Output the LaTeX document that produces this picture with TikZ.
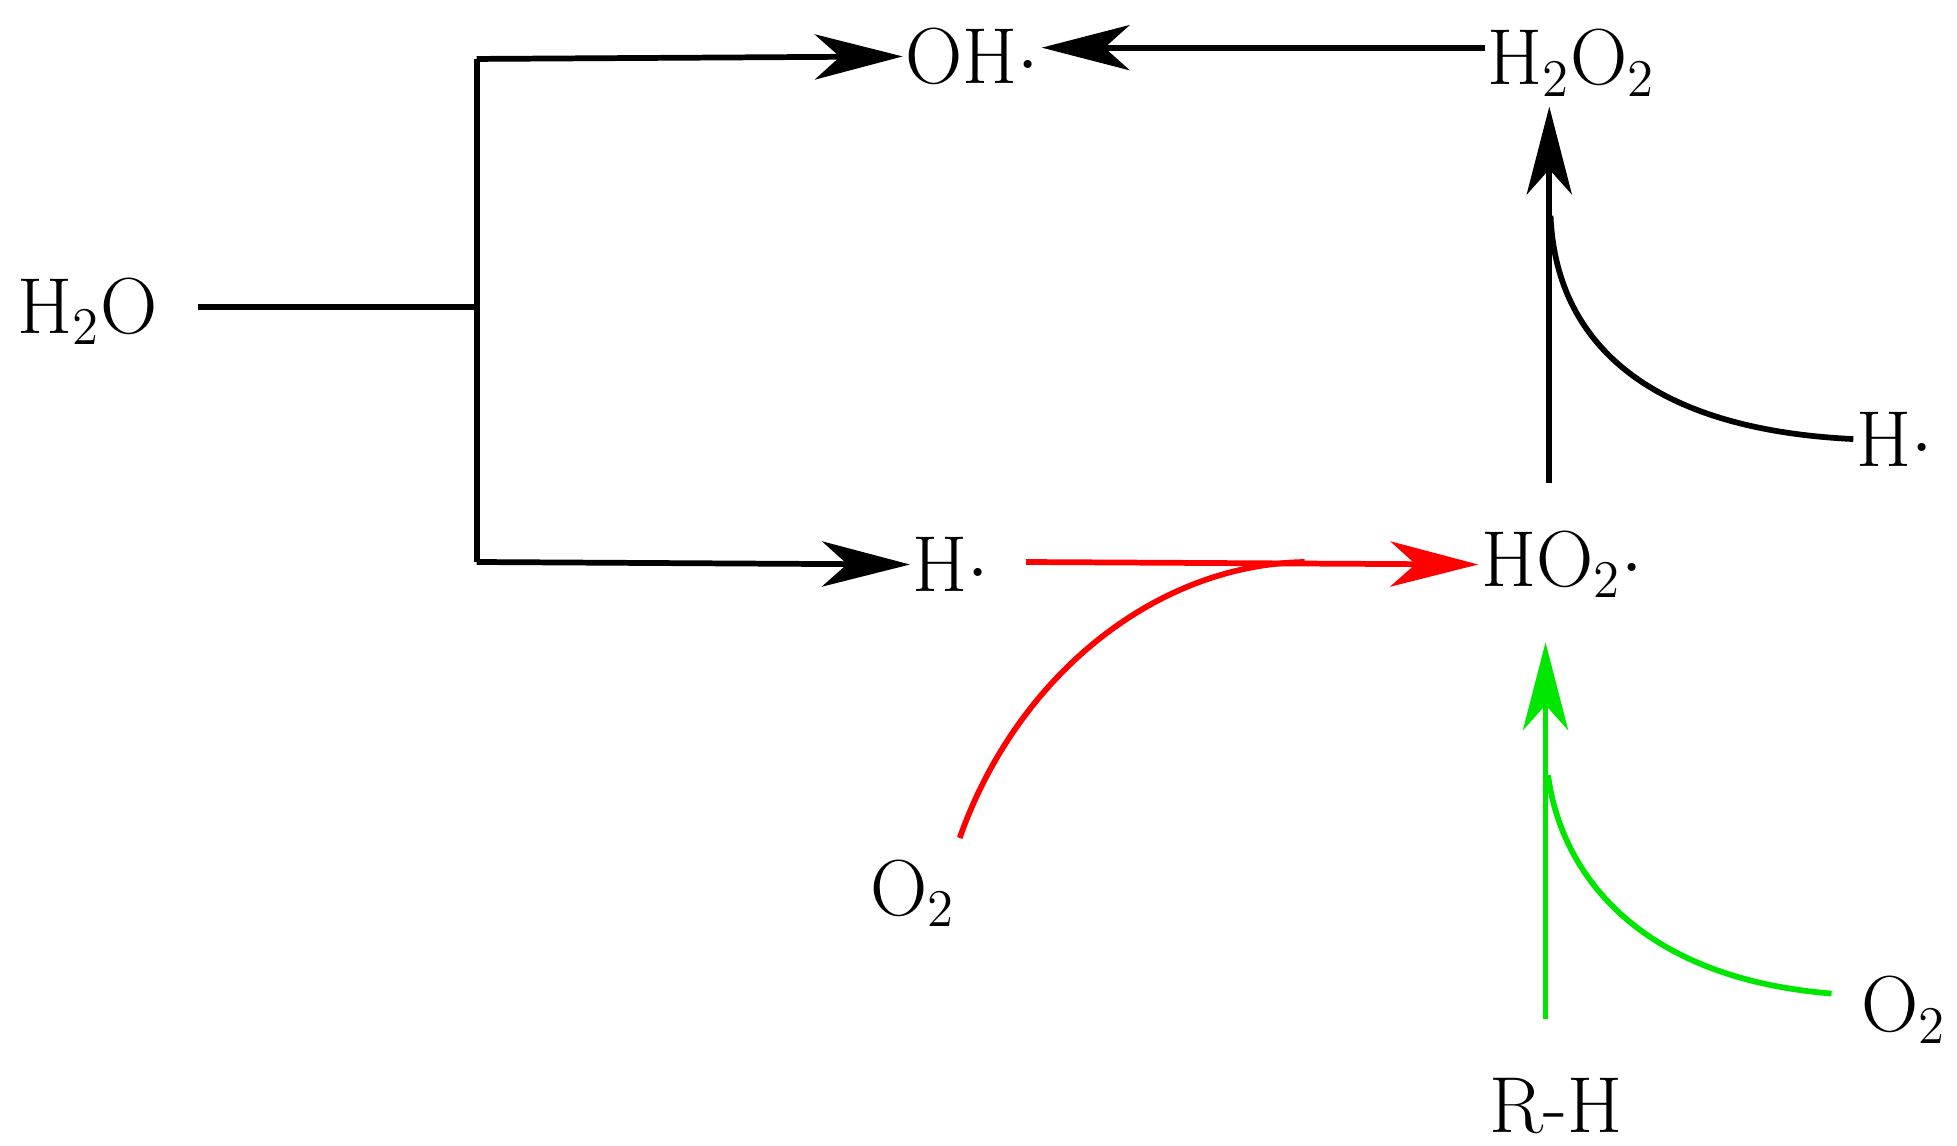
\documentclass[tikz,border=0pt]{standalone}
\usetikzlibrary{arrows.meta}
\definecolor{rgreen}{RGB}{0,230,0}
\tikzstyle{arrow} = [-{Stealth[length=0.7cm,width=0.36cm,inset=0.2cm]}]
\tikzstyle{chem} = [inner sep=0pt, font=\fontsize{18}{21}\selectfont]
\begin{document}
\begin{tikzpicture}[x=0.01cm,y=-0.01cm,line width=1.3pt]
  \useasboundingbox (0,0) rectangle (1560,913);
  \node [chem] (h2o) at (70,248) {H$_2$O};
  \node [chem] (oh) at (775,45) {OH$\cdot$};
  \node [chem] (h2o2) at (1253,50) {H$_2$O$_2$};
  \node [chem] (h) at (758,450) {H$\cdot$};
  \node [chem] (ho2) at (1245,450) {HO$_2\cdot$};
  \node [chem] (o2a) at (728,712) {O$_2$};
  \node [chem] (hb) at (1510,350) {H$\cdot$};
  \node [chem] (o2b) at (1518,805) {O$_2$};
  \node [chem] (rh) at (1240,882) {R-H};
  \coordinate (split) at (380,245);
  \coordinate (top) at (380,47);
  \coordinate (bot) at (380,448);
  \coordinate (redjoin) at (1040,448);
  \coordinate (hjoin) at (1236,172);
  \coordinate (gjoin) at (1234,618);
  \draw (h2o.east) ++(30,-3) -- (split);
  \draw (top) -- (bot);
  \draw [arrow] (top) -- (oh.west);
  \draw [arrow] (bot) -- (h.west);
  \draw [arrow] (h2o2.west |- 0,38) -- (oh.east |- 0,38);
  \draw [arrow] (1235,385) -- (1235,85);
  \draw (hb.west) .. controls (1310,342) and (1240,270) .. (hjoin);
  \draw [arrow, red] (818,448) -- (ho2.west);
  \draw [red] (765,668) .. controls (810,540) and (920,450) .. (redjoin);
  \draw [arrow, rgreen] (1232,812) -- (1232,512);
  \draw [rgreen] (1460,792) .. controls (1310,780) and (1245,700) .. (gjoin);
\end{tikzpicture}
\end{document}
